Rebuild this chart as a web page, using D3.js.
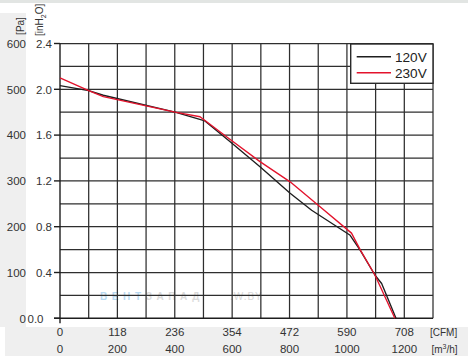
<!DOCTYPE html>
<html>
<head>
<meta charset="utf-8">
<script src="https://cdn.jsdelivr.net/npm/d3@7"></script>
<style>
  body { margin: 0; background: #fff; }
  svg { display: block; font-family: "Liberation Sans", Arial, sans-serif; }
</style>
</head>
<body>
<svg id="chart" width="468" height="360"></svg>
<script>
// fan curves, flow in m3/h, static pressure in Pa
var flow120 = [0, 100, 151, 401, 505, 592, 697, 802, 877, 1010, 1046, 1098, 1121, 1171];
var pres120 = [508, 497, 487, 450, 431, 386, 331, 273, 236, 182, 149, 94, 76, 0];
var flow230 = [0, 100, 151, 401, 488, 592, 697, 802, 900, 1016, 1046, 1098, 1167];
var pres230 = [525, 497, 484, 450, 440, 391, 342, 298, 247, 186, 150, 94, 0];

var flowTicks = [0, 200, 400, 600, 800, 1000, 1200];
var cfmLabels = ["0", "118", "236", "354", "472", "590", "708"];
var paTicks = [0, 100, 200, 300, 400, 500, 600];
var inH2OLabels = ["0.0", "0.4", "0.8", "1.2", "1.6", "2.0", "2.4"];

var seriesNames = ["120V", "230V"];
var seriesColors = ["#1e1e1e", "#e3132c"];

var svg = d3.select("#chart");

var x = d3.scaleLinear().domain([0, 1300]).range([60, 433]);
var y = d3.scaleLinear().domain([0, 600]).range([318.3, 43.5]);

// background panels
svg.append("rect").attr("x", 0).attr("y", 0).attr("width", 468).attr("height", 3).attr("fill", "#e2e5e3");
svg.append("rect").attr("x", 0).attr("y", 13).attr("width", 26).attr("height", 314).attr("fill", "#efefef");
svg.append("rect").attr("x", 5).attr("y", 327).attr("width", 463).attr("height", 29).attr("fill", "#efefef");

// watermark
var wm = svg.append("text").attr("x", 100).attr("y", 300)
    .attr("font-size", 10).attr("font-weight", "bold").attr("letter-spacing", 4.6)
    .attr("opacity", 0.6);
wm.append("tspan").attr("fill", "#8cc3ea").text("ВЕНТ");
wm.append("tspan").attr("fill", "#c4c4c4").text("ЗАПАД");
svg.append("text").attr("x", 230).attr("y", 300).attr("font-size", 10)
    .attr("letter-spacing", 1).attr("fill", "#cccccc").attr("opacity", 0.75).text(".W.BY");

// grid
var grid = svg.append("g").attr("stroke", "#2e2e2e").attr("stroke-width", 1.25);
grid.selectAll("line.v").data(d3.range(100, 1301, 100)).enter().append("line")
    .attr("x1", d => x(d)).attr("x2", d => x(d))
    .attr("y1", y(0)).attr("y2", y(600));
grid.selectAll("line.h").data(d3.range(50, 601, 50)).enter().append("line")
    .attr("x1", x(0)).attr("x2", x(1300))
    .attr("y1", d => y(d)).attr("y2", d => y(d));

// axes
var ax = svg.append("g").attr("stroke", "#1e1e1e").attr("stroke-width", 1.4);
ax.append("line").attr("x1", 54).attr("x2", x(1300)).attr("y1", y(0)).attr("y2", y(0));
ax.append("line").attr("x1", x(0)).attr("x2", x(0)).attr("y1", y(600)).attr("y2", y(0) + 5);
ax.selectAll("line.t").data(paTicks).enter().append("line")
    .attr("x1", 54).attr("x2", x(0))
    .attr("y1", d => y(d)).attr("y2", d => y(d));

// curves
var line = d3.line().x(d => x(d[0])).y(d => y(d[1]));
var curves = [d3.zip(flow120, pres120), d3.zip(flow230, pres230)];
svg.selectAll("path.curve").data(curves).enter().append("path")
    .attr("class", "curve")
    .attr("d", line)
    .attr("fill", "none")
    .attr("stroke", (d, i) => seriesColors[i])
    .attr("stroke-width", 1.35)
    .attr("stroke-linejoin", "round");

// y labels
var lab = svg.append("g").attr("fill", "#333").attr("font-size", 11.5);
lab.selectAll("text.pa").data(paTicks).enter().append("text")
    .attr("x", 26).attr("y", d => y(d) + 4.2).attr("text-anchor", "end")
    .text(d => d);
lab.selectAll("text.in").data(paTicks).enter().append("text")
    .attr("x", (d, i) => i === 0 ? 43.5 : 52).attr("y", d => y(d) + 4.2).attr("text-anchor", "end")
    .text((d, i) => inH2OLabels[i]);

// x labels
lab.selectAll("text.cfm").data(flowTicks).enter().append("text")
    .attr("x", d => x(d)).attr("y", 335.5).attr("text-anchor", "middle")
    .text((d, i) => cfmLabels[i]);
lab.selectAll("text.m3").data(flowTicks).enter().append("text")
    .attr("x", d => x(d)).attr("y", 353).attr("text-anchor", "middle")
    .text(d => d);

// units
svg.append("text").attr("x", 430).attr("y", 335.5).attr("font-size", 10).attr("fill", "#333").text("[CFM]");
var m3 = svg.append("text").attr("x", 431.5).attr("y", 353).attr("font-size", 10).attr("fill", "#333");
m3.append("tspan").text("[m");
m3.append("tspan").attr("font-size", 7).attr("dy", -4).text("3");
m3.append("tspan").attr("dy", 4).text("/h]");

svg.append("text").attr("transform", "translate(24,26) rotate(-90)")
    .attr("text-anchor", "middle").attr("font-size", 10).attr("fill", "#333").text("[Pa]");
var inh = svg.append("text").attr("transform", "translate(42.5,36) rotate(-90)")
    .attr("font-size", 10).attr("fill", "#333");
inh.append("tspan").text("[inH");
inh.append("tspan").attr("font-size", 7).attr("dy", 3).text("2");
inh.append("tspan").attr("dy", -3).text("O]");

// legend
var lg = svg.append("g");
lg.append("rect").attr("x", 350.7).attr("y", 44).attr("width", 82.3).attr("height", 39.3)
    .attr("fill", "#fff").attr("stroke", "#2a2a2a").attr("stroke-width", 1.4);
seriesNames.forEach(function (name, i) {
  var ly = 56.7 + i * 16;
  lg.append("line").attr("x1", 356.7).attr("x2", 391).attr("y1", ly).attr("y2", ly)
      .attr("stroke", seriesColors[i]).attr("stroke-width", 1.35);
  lg.append("text").attr("x", 395).attr("y", ly + 5.3).attr("font-size", 13.6)
      .attr("fill", "#222").text(name);
});
</script>
</body>
</html>
